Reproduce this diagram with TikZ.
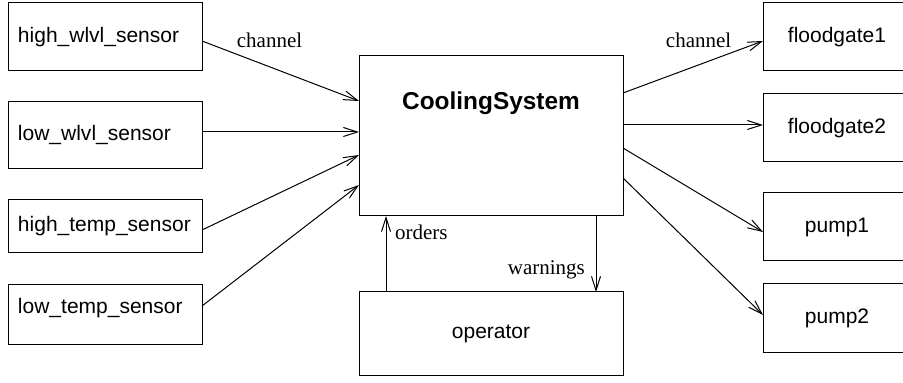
\documentclass[tikz,border=0pt]{standalone}
\usepackage{fontspec}
\setmainfont{Liberation Serif}
\newfontfamily\boxfont{Liberation Sans}
\usetikzlibrary{arrows.meta, calc}
\tikzstyle{sensor} = [rectangle, text width=87pt, align=left, inner xsep=5pt, inner ysep=0pt, outer sep=0pt, draw=black, font=\boxfont\fontsize{10.5}{12}\selectfont]
\tikzstyle{actuator} = [rectangle, minimum width=74pt, minimum height=34pt, inner sep=0pt, outer sep=0pt, text centered, draw=black, font=\boxfont\fontsize{10.5}{12}\selectfont]
\tikzstyle{system} = [rectangle, minimum width=132pt, inner sep=0pt, outer sep=0pt, draw=black, font=\boxfont\fontsize{10.5}{12}\selectfont]
\tikzstyle{title} = [anchor=base, inner sep=0pt, font=\boxfont\bfseries\fontsize{12.2}{14}\selectfont]
\tikzstyle{lbl} = [font=\fontsize{10.5}{12}\selectfont]
\tikzstyle{arrow} = [-{Straight Barb[length=7pt,width=4.5pt]}]

\begin{document}
\begin{tikzpicture}[x=0.5pt, y=-0.5pt, line width=0.5pt]
\useasboundingbox (0,0) rectangle (903,383);
\node (cs) [system, minimum height=80pt] at (491,136) {};
\node (cstitle) [title] at ($(cs.north)+(0,54)$) {CoolingSystem};
\node (op) [system, minimum height=42pt] at (491,334) {operator};
\draw [arrow] ($(op.north west)+(27,0)$) -- node[lbl, pos=0.78, right=1pt]{orders} ($(cs.south west)+(27,0)$);
\draw [arrow] ($(cs.south east)+(-27,0)$) -- node[lbl, pos=0.71, left=2pt]{warnings} ($(op.north east)+(-27,0)$);
% sensors
\node (hw) [sensor, minimum height=34pt] at (105,37) {high\_wlvl\_sensor};
\draw [arrow] ($(hw.east)+(0,4)$) -- node[lbl, pos=0.43, above=6pt]{channel} ($(cs.north west)+(0,45)$);
\node (lw) [sensor, minimum height=33.5pt] at (105,135) {low\_wlvl\_sensor};
\draw [arrow] ($(lw.east)+(0,-3)$) -- ($(cs.north west)+(0,76)$);
\node (ht) [sensor, minimum height=26.5pt] at (105,226.5) {high\_temp\_sensor};
\draw [arrow] ($(ht.east)+(0,3.5)$) -- ($(cs.north west)+(0,99)$);
\node (lt) [sensor, minimum height=30pt, text depth=9pt] at (105,315) {low\_temp\_sensor};
\draw [arrow] ($(lt.east)+(0,-9)$) -- ($(cs.north west)+(0,129)$);
% actuators
\node (fg1) [actuator] at (837,37) {floodgate1};
\draw [arrow] ($(cs.north east)+(0,37)$) -- node[lbl, pos=0.54, above=5pt]{channel} ($(fg1.west)+(0,4)$);
\node (fg2) [actuator] at (837,128) {floodgate2};
\draw [arrow] ($(cs.north east)+(0,69)$) -- ($(fg2.west)+(0,-3)$);
\node (p1) [actuator] at (837,227) {pump1};
\draw [arrow] ($(cs.north east)+(0,92)$) -- ($(p1.west)+(0,5)$);
\node (p2) [actuator, minimum height=34.5pt] at (837,318.5) {pump2};
\draw [arrow] ($(cs.north east)+(0,122)$) -- ($(p2.west)+(0,-3.5)$);
\end{tikzpicture}
\end{document}
